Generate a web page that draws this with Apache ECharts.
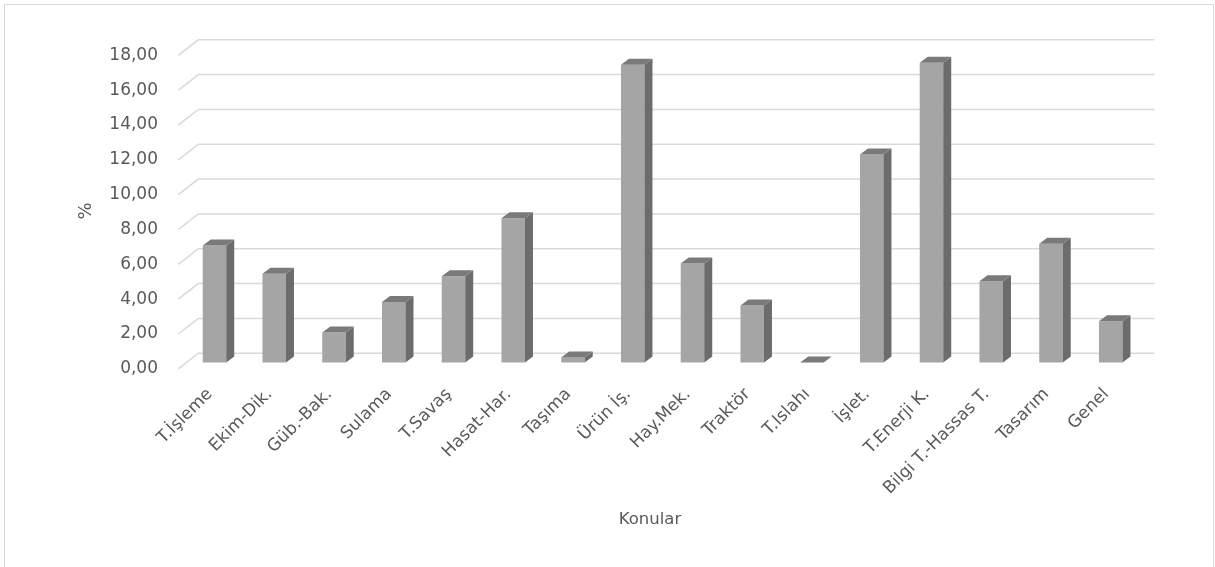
<!DOCTYPE html>
<html>
<head>
<meta charset="utf-8">
<script src="https://cdn.jsdelivr.net/npm/echarts@6/dist/echarts.min.js"></script>
<style>
  html, body { margin: 0; padding: 0; background: #ffffff; }
  #chart { width: 1215px; height: 567px; }
</style>
</head>
<body>
<div id="chart"></div>
<script>
// Topics and their share (%)
const categories = [
  'T.İşleme', 'Ekim-Dik.', 'Güb.-Bak.', 'Sulama', 'T.Savaş', 'Hasat-Har.',
  'Taşıma', 'Ürün İş.', 'Hay.Mek.', 'Traktör', 'T.Islahı', 'İşlet.',
  'T.Enerji K.', 'Bilgi T.-Hassas T.', 'Tasarım', 'Genel'
];
const shares = [
  6.72, 5.10, 1.72, 3.47, 4.96, 8.28,
  0.29, 17.10, 5.69, 3.28, 0.00, 11.95,
  17.22, 4.67, 6.82, 2.37
];
const yTicks = [0, 2, 4, 6, 8, 10, 12, 14, 16, 18];
const yTickLabels = ['0,00', '2,00', '4,00', '6,00', '8,00', '10,00', '12,00', '14,00', '16,00', '18,00'];

const FONT = "Tahoma, 'DejaVu Sans', Verdana, sans-serif";
const TEXT = '#595959';

// oblique depth of the floor/walls relative to the bar plane
const FRONT = [-7.7, 6.3];
const BACK = [12.3, -9.3];
// bar depth
const DX = 8, DY = -6;

const chart = echarts.init(document.getElementById('chart'), null, { renderer: 'canvas' });

chart.setOption({
  backgroundColor: '#ffffff',
  animation: false,
  grid: { left: 186, right: 73, top: 49.1, bottom: 204.5, containLabel: false },
  xAxis: {
    type: 'category',
    data: categories,
    axisLine: { show: false },
    axisTick: { show: false },
    splitLine: { show: false },
    axisLabel: {
      rotate: 45,
      interval: 0,
      margin: 23,
      padding: [0, 8.5, 0, 0],
      color: TEXT,
      fontFamily: FONT,
      fontSize: 17
    }
  },
  yAxis: {
    type: 'value',
    min: 0,
    max: 18,
    interval: 2,
    axisLine: { show: false },
    axisTick: { show: false },
    splitLine: { show: false },
    axisLabel: {
      margin: 28,
      color: TEXT,
      fontFamily: FONT,
      fontSize: 17,
      verticalAlign: 'top',
      lineHeight: 12.6,
      formatter: (v) => {
        const i = yTicks.indexOf(v);
        return i >= 0 ? yTickLabels[i] : '';
      }
    }
  },
  graphic: [
    {
      type: 'rect',
      shape: { x: 4.5, y: 4.5, width: 1209, height: 600 },
      style: { fill: 'none', stroke: '#d9d9d9', lineWidth: 1 },
      silent: true
    },
    {
      type: 'text',
      x: 86, y: 211,
      rotation: Math.PI / 2,
      style: {
        text: '%', fill: TEXT, fontFamily: FONT, fontSize: 18,
        align: 'center', verticalAlign: 'middle'
      }
    },
    {
      type: 'text',
      x: 650, y: 520,
      style: {
        text: 'Konular', fill: TEXT, fontFamily: FONT, fontSize: 16.5,
        align: 'center', verticalAlign: 'middle'
      }
    }
  ],
  series: [
    {
      // floor edge and back-wall gridlines
      type: 'custom',
      z: 1,
      silent: true,
      data: yTicks,
      renderItem: (params, api) => {
        const v = api.value(0);
        const band = api.size([1, 0])[0];
        const l = api.coord([0, v]);
        const r = api.coord([categories.length - 1, v]);
        const left = l[0] - band / 2;
        const right = r[0] + band / 2;
        const y = l[1];
        return {
          type: 'polyline',
          shape: {
            points: [
              [left + FRONT[0], y + FRONT[1]],
              [left + BACK[0], y + BACK[1]],
              [right + BACK[0], y + BACK[1]]
            ]
          },
          style: { stroke: '#d9d9d9', lineWidth: 1.5, fill: null }
        };
      },
      encode: { y: 0 }
    },
    {
      type: 'custom',
      z: 2,
      data: shares.map((v, i) => [i, v]),
      encode: { x: 0, y: 1 },
      renderItem: (params, api) => {
        const i = api.value(0);
        const top = api.coord([i, api.value(1)]);
        const base = api.coord([i, 0]);
        const c = top[0] - 1.4;
        const w = 23.5;
        const x0 = c - w / 2, x1 = c + w / 2;
        const yt = top[1], yb = base[1];
        return {
          type: 'group',
          children: [
            {
              type: 'rect',
              shape: { x: x0, y: yt, width: w, height: yb - yt },
              style: { fill: '#a5a5a5' }
            },
            {
              type: 'polygon',
              shape: { points: [[x1, yt], [x1 + DX, yt + DY], [x1 + DX, yb + DY], [x1, yb]] },
              style: { fill: '#6c6c6c' }
            },
            {
              type: 'polygon',
              shape: { points: [[x0, yt], [x0 + DX, yt + DY], [x1 + DX, yt + DY], [x1, yt]] },
              style: { fill: '#7a7a7a' }
            }
          ]
        };
      }
    }
  ]
});
</script>
</body>
</html>
